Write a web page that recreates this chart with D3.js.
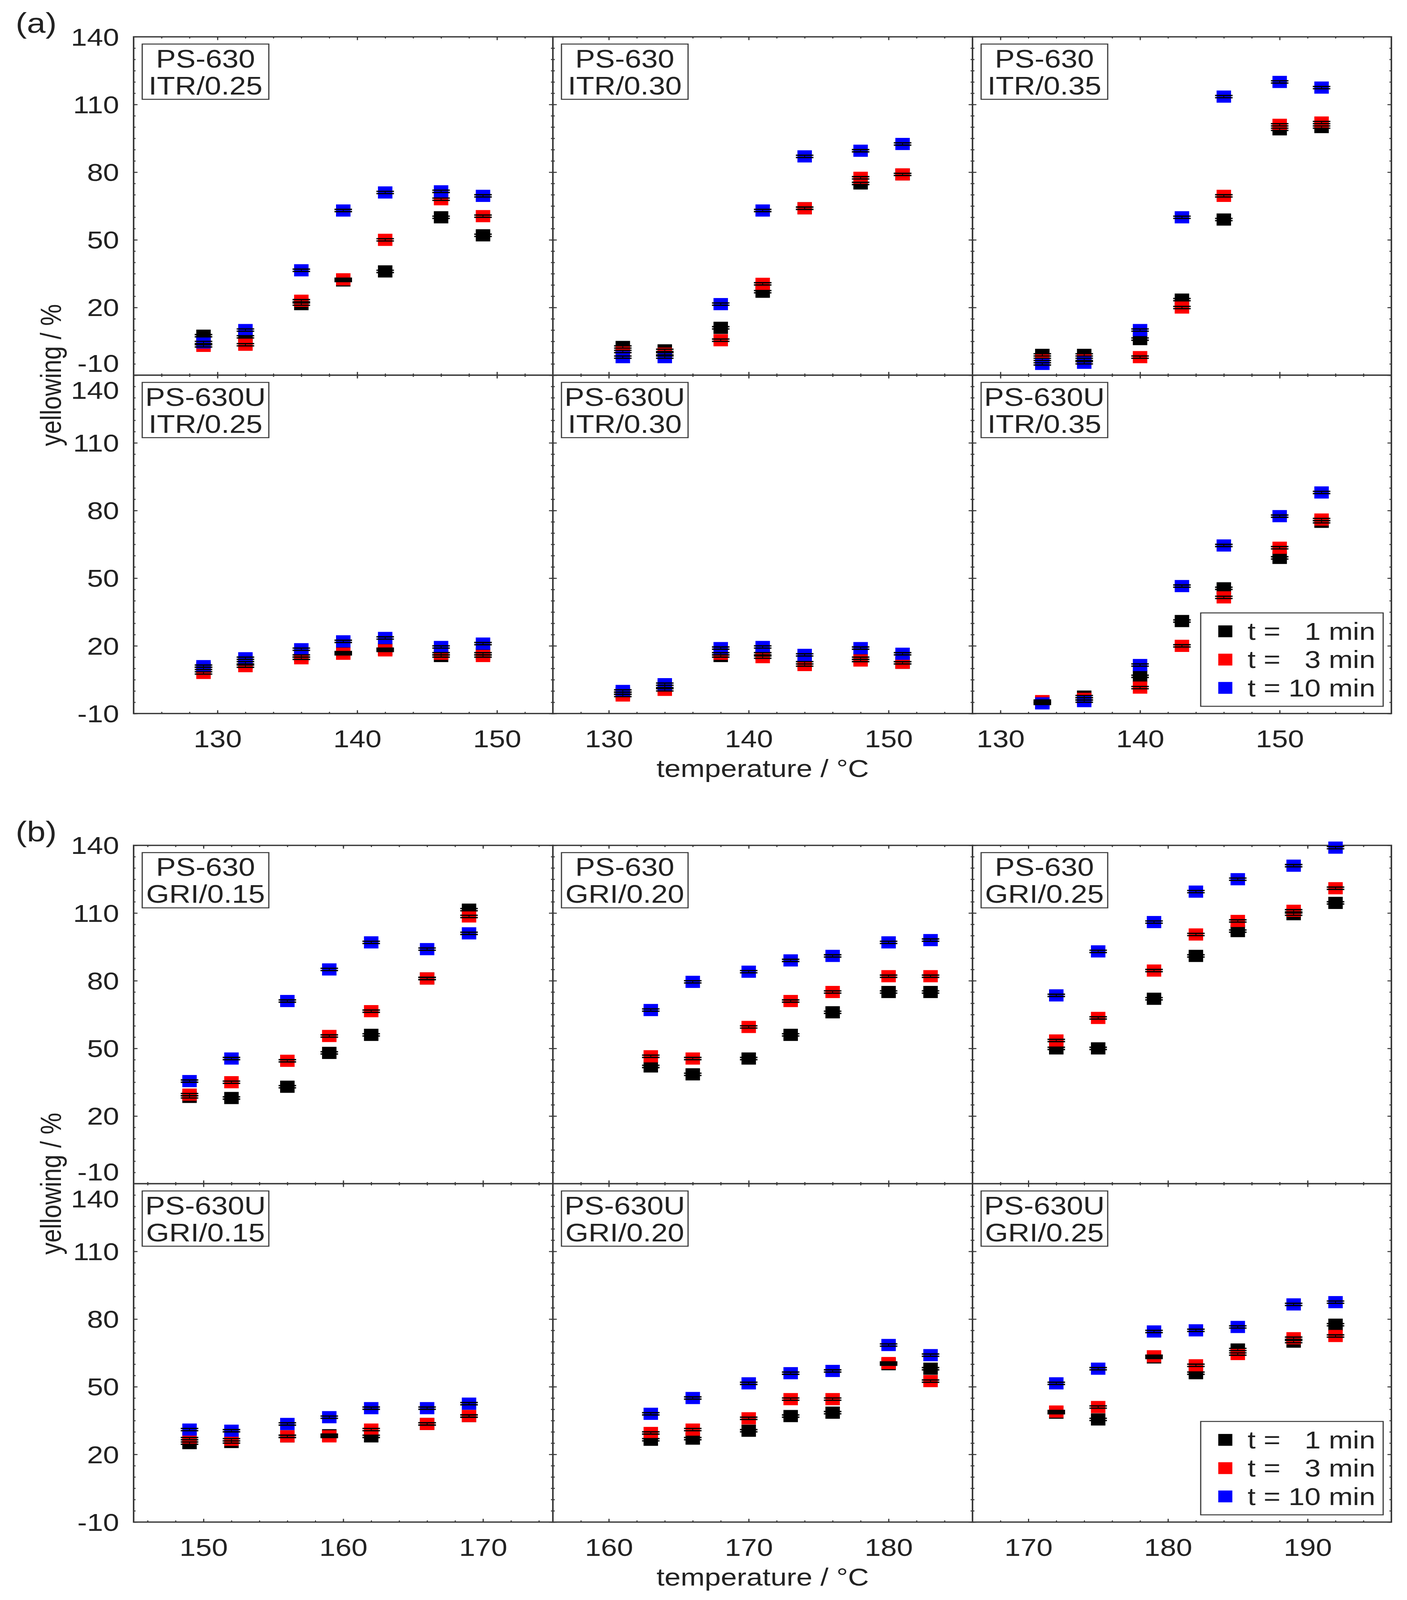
<!DOCTYPE html>
<html>
<head>
<meta charset="utf-8">
<script src="https://cdn.jsdelivr.net/npm/d3@7"></script>
<style>
  html, body { margin: 0; padding: 0; background: #fff; overflow: hidden; }
  svg { display: block; }
  svg text { font-family: "Liberation Sans", Arial, sans-serif; fill: #222; }
</style>
</head>
<body>
<svg id="chart"></svg>
<script>

// series shown in every panel
const seriesNames = ['t =   1 min', 't =   3 min', 't = 10 min'];
const seriesColors = ['#000000', '#ff0000', '#0000ff'];
const yTicks = [-10, 20, 50, 80, 110, 140];
const errorHalf = 0.5;

// (a) ITR - temperatures per column
const tempITR025 = [129, 132, 136, 139, 142, 146, 149];
const tempITR030 = [131, 134, 138, 141, 144, 148, 151];
const tempITR035 = [133, 136, 140, 143, 146, 150, 153];

const ps630_ITR025_1 = [7.5, 7, 21.5, 32, 36, 60, 52];
const ps630_ITR025_3 = [3, 3.5, 23, 32.5, 50, 68, 60.5];
const ps630_ITR025_10 = [4.5, 10, 36.5, 63, 71, 71.5, 69.5];

const ps630_ITR030_1 = [2.5, 1, 11, 27, 64, 75, 79];
const ps630_ITR030_3 = [0.5, -0.5, 5.5, 30.5, 64, 77.5, 79];
const ps630_ITR030_10 = [-2, -2, 21.5, 63, 87, 89.5, 92.5];

const ps630_ITR035_1 = [-1, -1, 6, 23.5, 59, 99, 100];
const ps630_ITR035_3 = [-3, -3, -2, 20, 69.5, 101, 102];
const ps630_ITR035_10 = [-5, -4.5, 10, 60, 113.5, 120, 117.5];

const ps630U_ITR025_1 = [10, 12.5, 15.5, 17, 18.5, 15.5, 16.5];
const ps630U_ITR025_3 = [8, 11, 14.5, 16.5, 18, 16.5, 15.5];
const ps630U_ITR025_10 = [11, 14.5, 18.5, 22, 23.5, 19.5, 21];

const ps630U_ITR030_1 = [-1, 2, 15.5, 16.5, 12.5, 14.5, 12.5];
const ps630U_ITR030_3 = [-2, 0.5, 16.5, 15, 11.5, 13.5, 12.5];
const ps630U_ITR030_10 = [0, 3, 19, 19.5, 16, 19, 16.5];

const ps630U_ITR035_1 = [-5, -2.5, 6.5, 31, 45.5, 59, 75];
const ps630U_ITR035_3 = [-4.5, -3.5, 1.5, 20, 41.5, 63.5, 76];
const ps630U_ITR035_10 = [-5.5, -4.5, 11.5, 46.5, 64.5, 77.5, 88];

// (b) GRI
const tempGRI015 = [149, 152, 156, 159, 162, 166, 169];
const tempGRI020 = [163, 166, 170, 173, 176, 180, 183];
const tempGRI025 = [172, 175, 179, 182, 185, 189, 192];

const ps630_GRI015_1 = [28.5, 28, 33, 48, 56, 81, 111.5];
const ps630_GRI015_3 = [29.5, 35, 44.5, 55.5, 66.5, 81, 108.5];
const ps630_GRI015_10 = [35.5, 45.5, 71, 85, 97, 94, 101];

const ps630_GRI020_1 = [42, 38.5, 45.5, 56, 66, 75, 75];
const ps630_GRI020_3 = [46.5, 45.5, 59.5, 71, 75, 82, 82];
const ps630_GRI020_10 = [67, 79.5, 84, 89, 91, 97, 98];

const ps630_GRI025_1 = [50, 50, 72, 91, 102, 109.5, 114.5];
const ps630_GRI025_3 = [53.5, 63.5, 84.5, 100.5, 106.5, 111, 121];
const ps630_GRI025_10 = [73.5, 93, 106, 119.5, 125, 131, 139];

const ps630U_GRI015_1 = [25, 25.5, 28, 28.5, 28, 33.5, 37];
const ps630U_GRI015_3 = [27, 26.5, 28, 28, 31, 33.5, 37];
const ps630U_GRI015_10 = [31, 30.5, 33.5, 36.5, 40.5, 40.5, 42.5];

const ps630U_GRI020_1 = [26.5, 27, 30.5, 37, 38.5, 60, 58];
const ps630U_GRI020_3 = [29.5, 31, 36, 44.5, 44.5, 60.5, 52.5];
const ps630U_GRI020_10 = [38, 45, 51.5, 56, 57, 68.5, 64];

const ps630U_GRI025_1 = [38.5, 35.5, 63, 56, 66.5, 70, 77.5];
const ps630U_GRI025_3 = [39, 41, 63.5, 59.5, 64.5, 71.5, 72.5];
const ps630U_GRI025_10 = [51.5, 58, 74.5, 75, 76.5, 86.5, 87.5];

// x ranges of each column, per figure
const xDomainsA = [[124, 154], [126, 156], [128, 158]];
const xDomainsB = [[145, 175], [156, 186], [166, 196]];

const figures = [
	{ tag: '(a)', top: 112, domains: xDomainsA, panels: [
		{ row: 0, col: 0, title: ['PS-630', 'ITR/0.25'], temps: tempITR025, vals: [ps630_ITR025_1, ps630_ITR025_3, ps630_ITR025_10] },
		{ row: 0, col: 1, title: ['PS-630', 'ITR/0.30'], temps: tempITR030, vals: [ps630_ITR030_1, ps630_ITR030_3, ps630_ITR030_10] },
		{ row: 0, col: 2, title: ['PS-630', 'ITR/0.35'], temps: tempITR035, vals: [ps630_ITR035_1, ps630_ITR035_3, ps630_ITR035_10] },
		{ row: 1, col: 0, title: ['PS-630U', 'ITR/0.25'], temps: tempITR025, vals: [ps630U_ITR025_1, ps630U_ITR025_3, ps630U_ITR025_10] },
		{ row: 1, col: 1, title: ['PS-630U', 'ITR/0.30'], temps: tempITR030, vals: [ps630U_ITR030_1, ps630U_ITR030_3, ps630U_ITR030_10] },
		{ row: 1, col: 2, title: ['PS-630U', 'ITR/0.35'], temps: tempITR035, vals: [ps630U_ITR035_1, ps630U_ITR035_3, ps630U_ITR035_10] }
	]},
	{ tag: '(b)', top: 2571, domains: xDomainsB, panels: [
		{ row: 0, col: 0, title: ['PS-630', 'GRI/0.15'], temps: tempGRI015, vals: [ps630_GRI015_1, ps630_GRI015_3, ps630_GRI015_10] },
		{ row: 0, col: 1, title: ['PS-630', 'GRI/0.20'], temps: tempGRI020, vals: [ps630_GRI020_1, ps630_GRI020_3, ps630_GRI020_10] },
		{ row: 0, col: 2, title: ['PS-630', 'GRI/0.25'], temps: tempGRI025, vals: [ps630_GRI025_1, ps630_GRI025_3, ps630_GRI025_10] },
		{ row: 1, col: 0, title: ['PS-630U', 'GRI/0.15'], temps: tempGRI015, vals: [ps630U_GRI015_1, ps630U_GRI015_3, ps630U_GRI015_10] },
		{ row: 1, col: 1, title: ['PS-630U', 'GRI/0.20'], temps: tempGRI020, vals: [ps630U_GRI020_1, ps630U_GRI020_3, ps630U_GRI020_10] },
		{ row: 1, col: 2, title: ['PS-630U', 'GRI/0.25'], temps: tempGRI025, vals: [ps630U_GRI025_1, ps630U_GRI025_3, ps630U_GRI025_10] }
	]}
];

const W = 3601, H = 4866;
const COL_X = [342, 1415, 2489, 3561];
const PANEL_H = 1029;
const FONT = 74;
const AXIS_COLOR = '#3a3a3a';
const MARK = 37;
const CAP = 45;

// the browser may give less height than asked for: fit the whole figure into the window
const svg = d3.select('#chart')
.attr('viewBox', '0 0 ' + W + ' ' + H)
.attr('preserveAspectRatio', 'none')
.attr('width', window.innerWidth || W)
.attr('height', window.innerHeight || H);

svg.append('rect').attr('width', W).attr('height', H).attr('fill', '#fff');

// inward ticks on one border of a panel
function innerTicks(g, gen, scale, values, len) {
	g.append('g')
	.call(gen(scale).tickValues(values).tickSize(len).tickFormat(''))
	.call(s => s.select('.domain').remove())
	.selectAll('line')
	.attr('stroke', AXIS_COLOR)
	.attr('stroke-width', 3);
}

const yMinor = d3.range(-10, 141, 5);

figures.forEach(fig => {

	svg.append('text')
	.attr('x', 40)
	.attr('y', fig.top - 12)
	.attr('font-size', 86)
	.text(fig.tag);

	svg.append('text')
	.attr('transform', 'translate(130,' + (fig.top + PANEL_H) + ') rotate(-90)')
	.attr('text-anchor', 'middle')
	.attr('dy', '0.35em')
	.attr('font-size', FONT)
	.text('yellowing / %');

	svg.append('text')
	.attr('x', (COL_X[1] + COL_X[2]) / 2)
	.attr('y', fig.top + 2 * PANEL_H + 167)
	.attr('dy', '0.35em')
	.attr('text-anchor', 'middle')
	.attr('font-size', FONT)
	.text('temperature / °C');

	fig.panels.forEach(p => {
		const w = COL_X[p.col + 1] - COL_X[p.col];
		const dom = fig.domains[p.col];
		const x = d3.scaleLinear().domain(dom).range([0, w]);
		const y = d3.scaleLinear().domain([-10, 140]).range([PANEL_H, 0]);
		const g = svg.append('g')
		.attr('transform', 'translate(' + COL_X[p.col] + ',' + (fig.top + p.row * PANEL_H) + ')');

		const xMajor = d3.range(Math.ceil(dom[0] / 10) * 10, dom[1] + 0.01, 10);
		const xMinor = d3.range(Math.ceil(dom[0] / 2) * 2, dom[1] + 0.01, 2);

		// ticks pointing into the panel on all four borders
		const left = g.append('g');
		const right = g.append('g').attr('transform', 'translate(' + w + ',0)');
		const top = g.append('g');
		const bottom = g.append('g').attr('transform', 'translate(0,' + PANEL_H + ')');
		innerTicks(left, d3.axisRight, y, yMinor, 5);
		innerTicks(left, d3.axisRight, y, yTicks, 10);
		innerTicks(right, d3.axisLeft, y, yMinor, 5);
		innerTicks(right, d3.axisLeft, y, yTicks, 10);
		innerTicks(top, d3.axisBottom, x, xMinor, 5);
		innerTicks(top, d3.axisBottom, x, xMajor, 10);
		innerTicks(bottom, d3.axisTop, x, xMinor, 5);
		innerTicks(bottom, d3.axisTop, x, xMajor, 10);

		g.append('rect')
		.attr('width', w)
		.attr('height', PANEL_H)
		.attr('fill', 'none')
		.attr('stroke', AXIS_COLOR)
		.attr('stroke-width', 4);

		// y tick labels on the first column
		if (p.col === 0) {
			g.append('g')
			.call(d3.axisLeft(y).tickValues(yTicks).tickSize(0).tickPadding(37).tickFormat(d => String(d)))
			.call(s => s.select('.domain').remove())
			.selectAll('text')
			.attr('font-size', FONT)
			.attr('font-family', '"Liberation Sans", Arial, sans-serif')
			.attr('fill', '#222')
			.attr('dy', d => {
				if (p.row === 0 && d === -10) return '-0.14em';
				if (p.row === 1 && d === 140) return '0.97em';
				return '0.35em';
			});
		}

		// x tick labels on the bottom row
		if (p.row === 1) {
			g.append('g')
			.attr('transform', 'translate(0,' + PANEL_H + ')')
			.call(d3.axisBottom(x).tickValues(xMajor).tickSize(0).tickPadding(50))
			.call(s => s.select('.domain').remove())
			.selectAll('text')
			.attr('font-size', FONT)
			.attr('font-family', '"Liberation Sans", Arial, sans-serif')
			.attr('fill', '#222');
		}

		// markers
		const pts = [];
		p.vals.forEach((arr, si) => arr.forEach((v, i) => pts.push({ t: p.temps[i], v: v, s: si })));

		g.selectAll('rect.mark')
		.data(pts)
		.enter()
		.append('rect')
		.attr('class', 'mark')
		.attr('x', d => x(d.t) - MARK / 2)
		.attr('y', d => y(d.v) - MARK / 2)
		.attr('width', MARK)
		.attr('height', MARK)
		.attr('fill', d => seriesColors[d.s]);

		// error bars
		const eb = g.selectAll('g.err')
		.data(pts)
		.enter()
		.append('g')
		.attr('class', 'err');
		eb.append('line')
		.attr('x1', d => x(d.t)).attr('x2', d => x(d.t))
		.attr('y1', d => y(d.v - errorHalf)).attr('y2', d => y(d.v + errorHalf))
		.attr('stroke', '#000').attr('stroke-width', 2);
		[-1, 1].forEach(sign => {
			eb.append('line')
			.attr('x1', d => x(d.t) - CAP / 2).attr('x2', d => x(d.t) + CAP / 2)
			.attr('y1', d => y(d.v + sign * errorHalf)).attr('y2', d => y(d.v + sign * errorHalf))
			.attr('stroke', '#000').attr('stroke-width', 4);
		});

		// panel title box
		const box = g.append('g').attr('transform', 'translate(22,22)');
		box.append('rect')
		.attr('width', 324)
		.attr('height', 168)
		.attr('fill', '#fff')
		.attr('stroke', AXIS_COLOR)
		.attr('stroke-width', 3);
		box.selectAll('text')
		.data(p.title)
		.enter()
		.append('text')
		.attr('x', 162)
		.attr('y', (d, i) => 71 + i * 82)
		.attr('text-anchor', 'middle')
		.attr('font-size', 76)
		.text(d => d);

		// legend in the bottom right panel
		if (p.row === 1 && p.col === 2) {
			const lg = g.append('g')
			.attr('transform', 'translate(' + (w - 21 - 467) + ',' + (PANEL_H - 22 - 284) + ')');
			lg.append('rect')
			.attr('width', 467)
			.attr('height', 284)
			.attr('fill', '#fff')
			.attr('stroke', AXIS_COLOR)
			.attr('stroke-width', 3);
			const items = lg.selectAll('g.item')
			.data(seriesNames)
			.enter()
			.append('g')
			.attr('class', 'item')
			.attr('transform', (d, i) => 'translate(0,' + (56 + i * 86) + ')');
			items.append('rect')
			.attr('x', 63 - 18)
			.attr('y', -18)
			.attr('width', 36)
			.attr('height', 36)
			.attr('fill', (d, i) => seriesColors[i]);
			items.append('text')
			.attr('x', 120)
			.attr('dy', '0.35em')
			.attr('font-size', FONT)
			.attr('xml:space', 'preserve')
			.style('white-space', 'pre')
			.text(d => d);
		}
	});
});

</script>
</body>
</html>
